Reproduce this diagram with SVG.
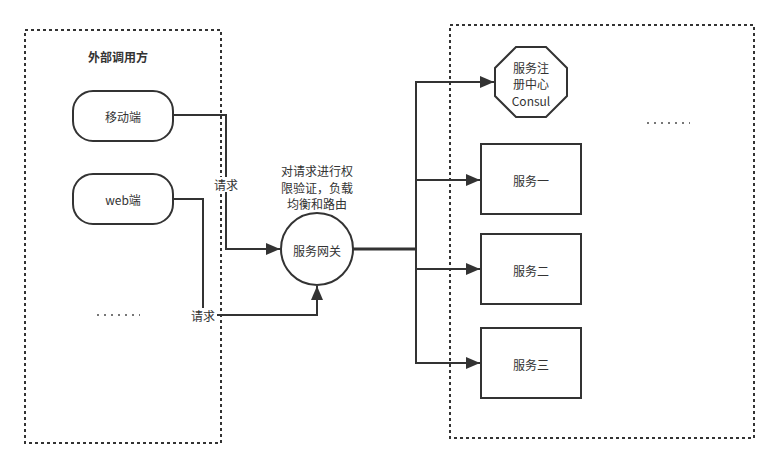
<svg xmlns="http://www.w3.org/2000/svg" width="779" height="469" viewBox="0 0 779 469">
<style>
.box{fill:none;stroke:#333;stroke-width:2;stroke-dasharray:3 3}
.node{fill:#fff;stroke:#333;stroke-width:2}
.t{font-family:"Noto Sans CJK SC","Liberation Sans",sans-serif;font-size:12px;fill:#333;text-anchor:middle;dominant-baseline:central}
.b{font-weight:bold}
.c{fill:none;stroke:#333;stroke-width:2}
.lbl{fill:#fff}
.dots{stroke:#777;stroke-width:2;stroke-dasharray:2 5}
</style>
<defs>
<marker id="arr" markerUnits="userSpaceOnUse" markerWidth="14" markerHeight="12" refX="14" refY="6" orient="auto">
<path d="M0,0 L14,6 L0,12 Z" fill="#333"/>
</marker>
</defs>
<g id="left-group">
<rect class="box" x="25" y="30" width="196" height="413"/>
<text class="t b" x="118" y="56">外部调用方</text>
<line class="dots" x1="97" y1="315" x2="140" y2="315"/>
</g>
<g id="right-group">
<rect class="box" x="450" y="25" width="304" height="413"/>
<line class="dots" x1="647" y1="123" x2="690" y2="123"/>
</g>
<g id="connectors">
<path class="c" d="M173,115 H226 V249 H280" marker-end="url(#arr)"/>
<path class="c" d="M173,199 H203 V315 H317 V286" marker-end="url(#arr)"/>
<path class="c" d="M353,249 H416" style="stroke-width:3"/>
<path class="c" d="M416,249 V82 H494" marker-end="url(#arr)"/>
<path class="c" d="M416,180 H480" marker-end="url(#arr)"/>
<path class="c" d="M416,249 V269 H480" marker-end="url(#arr)"/>
<path class="c" d="M416,269 V363 H480" marker-end="url(#arr)"/>
<rect class="lbl" x="212" y="177" width="28" height="15"/>
<text class="t" x="226" y="184">请求</text>
<rect class="lbl" x="189" y="308" width="28" height="15"/>
<text class="t" x="203" y="315">请求</text>
</g>
<g id="mobile">
<rect class="node" x="73" y="91" width="100" height="50" rx="20" ry="20"/>
<text class="t" x="123" y="116">移动端</text>
</g>
<g id="web">
<rect class="node" x="73" y="174" width="100" height="50" rx="20" ry="20"/>
<text class="t" x="123" y="199">web端</text>
</g>
<g id="gateway-note">
<text class="t" x="317" y="170">对请求进行权</text>
<text class="t" x="317" y="187">限验证，负载</text>
<text class="t" x="317" y="203">均衡和路由</text>
</g>
<g id="gateway">
<circle class="node" cx="317" cy="249" r="36"/>
<text class="t" x="317" y="250">服务网关</text>
</g>
<g id="consul">
<polygon class="node" points="516,47 546,47 567,68 567,96 546,117 516,117 495,96 495,68"/>
<text class="t" x="531" y="67">服务注</text>
<text class="t" x="531" y="83">册中心</text>
<text class="t" x="531" y="100">Consul</text>
</g>
<g id="service1">
<rect class="node" x="481" y="144" width="100" height="70"/>
<text class="t" x="531" y="180">服务一</text>
</g>
<g id="service2">
<rect class="node" x="481" y="234" width="100" height="70"/>
<text class="t" x="531" y="270">服务二</text>
</g>
<g id="service3">
<rect class="node" x="481" y="328" width="100" height="70"/>
<text class="t" x="531" y="364">服务三</text>
</g>
</svg>
